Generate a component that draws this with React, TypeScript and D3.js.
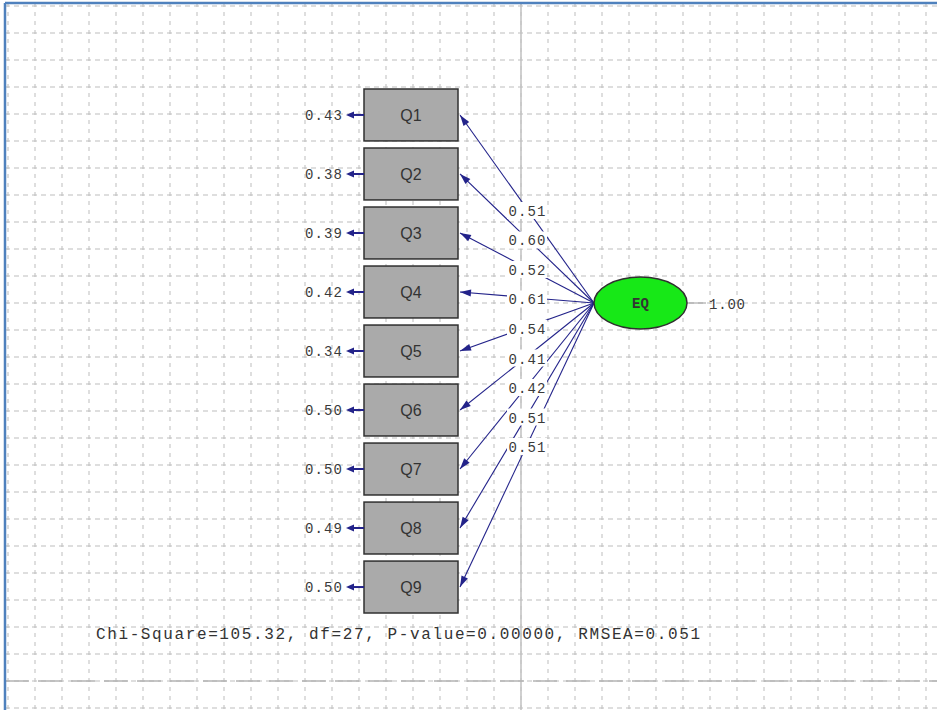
import React from "react";
import * as d3 from "d3";

// indicators, standardized loadings and error variances
const indicators = ["Q1", "Q2", "Q3", "Q4", "Q5", "Q6", "Q7", "Q8", "Q9"];
const loadings = [0.51, 0.6, 0.52, 0.61, 0.54, 0.41, 0.42, 0.51, 0.51];
const errorVars = [0.43, 0.38, 0.39, 0.42, 0.34, 0.5, 0.5, 0.49, 0.5];
const latentName = "EQ";
const latentVar = 1.0;
const fitText = "Chi-Square=105.32, df=27, P-value=0.00000, RMSEA=0.051";

const W = 937;
const H = 710;
const MONO = "'Liberation Mono', 'Courier New', monospace";
const SANS = "'Liberation Sans', Arial, sans-serif";
const NAVY = "#23238a";
const TXT = "#3a3a3a";

function arrowHead(tipX: number, tipY: number, fromX: number, fromY: number, len: number, half: number) {
  const a = Math.atan2(tipY - fromY, tipX - fromX);
  const bx = tipX - len * Math.cos(a);
  const by = tipY - len * Math.sin(a);
  const px = -Math.sin(a) * half;
  const py = Math.cos(a) * half;
  return `${tipX},${tipY} ${bx + px},${by + py} ${bx - px},${by - py}`;
}

const App: React.FC = () => {
  const y = d3
    .scaleBand<string>()
    .domain(indicators)
    .range([89, 613])
    .paddingInner(0.12);

  const boxX = 364;
  const boxW = 94;
  const bw = y.bandwidth();

  const ell = { cx: 640.5, cy: 303, rx: 46.5, ry: 26 };
  const src = { x: ell.cx - ell.rx, y: ell.cy };

  const xGrid = d3.range(8, W, 27);
  const yGrid = d3.range(6, H, 27);

  const fmt = d3.format(".2f");

  const paths = indicators.map((q, i) => {
    const ty = (y(q) as number) + bw / 2;
    const tx = boxX + boxW + 2;
    return {
      q,
      ty,
      tx,
      mx: (src.x + tx) / 2,
      my: (src.y + ty) / 2,
      loading: loadings[i],
      err: errorVars[i],
    };
  });

  return (
    <svg
      width={W}
      height={H}
      style={{ position: "absolute", left: 0, top: 0, background: "#fff" }}
    >
      {/* background grid */}
      <g stroke="#bdbdbd" strokeWidth={1}>
        {yGrid.map((gy) => (
          <line key={"h" + gy} x1={5} x2={W} y1={gy} y2={gy} strokeDasharray="5,4" />
        ))}
        {xGrid.map((gx) => (
          <line key={"v" + gx} x1={gx} x2={gx} y1={3} y2={H} strokeDasharray="4,5" />
        ))}
      </g>
      {/* page boundaries */}
      <line x1={521} x2={521} y1={3} y2={H} stroke="#c4c4c4" strokeWidth={1.6} />
      <line x1={5} x2={W} y1={681} y2={681} stroke="#b4b4b4" strokeWidth={1.6} strokeDasharray="24,9" />

      {/* window border */}
      <line x1={5} x2={5} y1={3} y2={H} stroke="#4f81bd" strokeWidth={2.5} />
      <line x1={5} x2={W} y1={3} y2={3} stroke="#4f81bd" strokeWidth={2.5} />

      {/* loading paths */}
      {paths.map((p) => (
        <g key={"p" + p.q}>
          <line x1={src.x} y1={src.y} x2={p.tx} y2={p.ty} stroke={NAVY} strokeWidth={1.1} />
          <polygon points={arrowHead(p.tx, p.ty, src.x, src.y, 11, 3.5)} fill={NAVY} />
        </g>
      ))}
      {paths.map((p) => (
        <g key={"l" + p.q}>
          <rect x={p.mx - 20} y={p.my - 7} width={40} height={17} fill="#fff" />
          <text
            x={p.mx - 18.5}
            y={p.my + 7}
            fontFamily={MONO}
            fontSize={14}
            fill={TXT}
            textLength={37}
            lengthAdjust="spacing"
          >
            {fmt(p.loading)}
          </text>
        </g>
      ))}

      {/* indicator boxes with error variances */}
      {paths.map((p) => (
        <g key={"b" + p.q}>
          <rect
            x={boxX}
            y={y(p.q)}
            width={boxW}
            height={bw}
            fill="#aaaaaa"
            stroke="#303030"
            strokeWidth={1.5}
          />
          <text
            x={boxX + boxW / 2}
            y={p.ty + 6}
            textAnchor="middle"
            fontFamily={SANS}
            fontSize={16}
            fill="#333"
          >
            {p.q}
          </text>
          <line x1={boxX} y1={p.ty} x2={352} y2={p.ty} stroke={NAVY} strokeWidth={2} />
          <polygon points={arrowHead(346, p.ty, boxX, p.ty, 8, 3.5)} fill={NAVY} />
          <text
            x={305}
            y={p.ty + 5}
            fontFamily={MONO}
            fontSize={14}
            fill={TXT}
            textLength={37}
            lengthAdjust="spacing"
          >
            {fmt(p.err)}
          </text>
        </g>
      ))}

      {/* latent variable */}
      <line x1={ell.cx + ell.rx} x2={706} y1={ell.cy} y2={ell.cy} stroke="#9a9a9a" strokeWidth={1} />
      <ellipse cx={ell.cx} cy={ell.cy} rx={ell.rx} ry={ell.ry} fill="#17e817" stroke="#303030" strokeWidth={1.5} />
      <text
        x={ell.cx}
        y={ell.cy + 5}
        textAnchor="middle"
        fontFamily={MONO}
        fontSize={14}
        fontWeight="bold"
        fill="#333"
      >
        {latentName}
      </text>
      <text
        x={709}
        y={ell.cy + 6}
        fontFamily={MONO}
        fontSize={14}
        fill={TXT}
        textLength={36}
        lengthAdjust="spacing"
      >
        {fmt(latentVar)}
      </text>

      {/* fit statistics */}
      <text
        x={96}
        y={639}
        fontFamily={MONO}
        fontSize={16}
        fill="#333"
        textLength={604}
        lengthAdjust="spacing"
      >
        {fitText}
      </text>
    </svg>
  );
};

export default App;
